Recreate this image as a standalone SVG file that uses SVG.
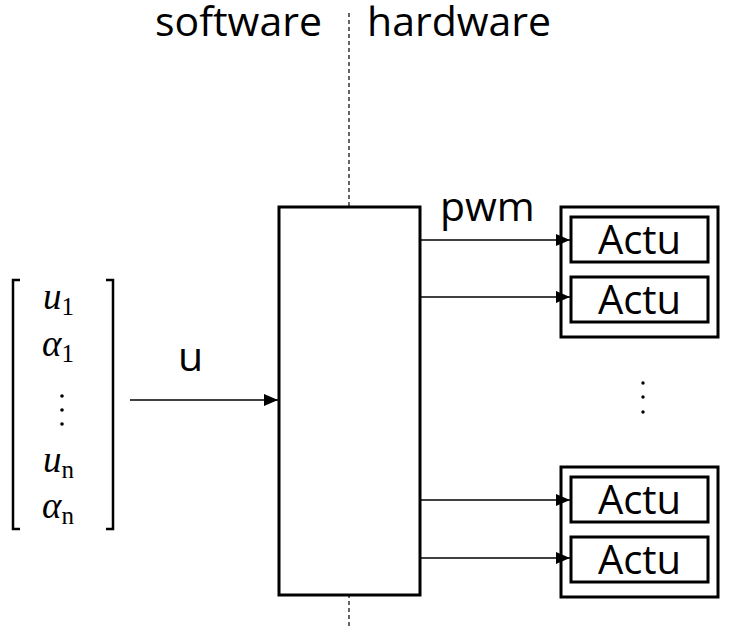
<svg xmlns="http://www.w3.org/2000/svg" width="740" height="628" viewBox="0 0 740 628">
<style>
.lbl{font-family:"Open Sans","Liberation Sans",sans-serif;font-size:41px;fill:#000}
.act{font-family:"Open Sans","Liberation Sans",sans-serif;font-size:40px;fill:#000;text-anchor:middle}
.box{fill:#fff;stroke:#000;stroke-width:3}
.math{font-family:"Liberation Serif","DejaVu Serif",serif;font-style:italic;font-size:37px;fill:#000}
.sub{font-family:"Liberation Serif","DejaVu Serif",serif;font-style:normal;font-size:25px;fill:#000}
.con{stroke:#000;stroke-width:1.3;fill:none}
</style>
<defs>
<marker id="ah" markerWidth="14" markerHeight="12" refX="14" refY="6" orient="auto" markerUnits="userSpaceOnUse">
<path d="M0,0 L14,6 L0,12 Z" fill="#000"/>
</marker>
</defs>
<rect width="740" height="628" fill="#fff"/>
<g id="divider">
<line x1="349" y1="13" x2="349" y2="628" stroke="#000" stroke-width="1.2" stroke-dasharray="4,3"/>
<text class="lbl" x="155" y="36">software</text>
<text class="lbl" x="367" y="36">hardware</text>
</g>
<g id="vector">
<path d="M20,280 L13,280 L13,529 L20,529" fill="none" stroke="#000" stroke-width="2.5"/>
<path d="M106,280 L113,280 L113,529 L106,529" fill="none" stroke="#000" stroke-width="2.5"/>
<text class="math" x="43" y="309">u<tspan class="sub" dy="6">1</tspan></text>
<text class="math" x="42" y="356">α<tspan class="sub" dy="6">1</tspan></text>
<circle cx="62" cy="396" r="1.8" fill="#000"/>
<circle cx="62" cy="410" r="1.8" fill="#000"/>
<circle cx="62" cy="424" r="1.8" fill="#000"/>
<text class="math" x="43" y="472">u<tspan class="sub" dy="6" font-style="italic">n</tspan></text>
<text class="math" x="42" y="518">α<tspan class="sub" dy="6" font-style="italic">n</tspan></text>
</g>
<g id="controller">
<rect class="box" x="279" y="207" width="141" height="388"/>
</g>
<g id="group1">
<rect class="box" x="561" y="207" width="157" height="130"/>
</g>
<g id="actu1">
<rect class="box" x="571" y="217" width="137" height="45"/>
<text class="act" x="639.5" y="254">Actu</text>
</g>
<g id="actu2">
<rect class="box" x="571" y="277" width="137" height="45"/>
<text class="act" x="639.5" y="314">Actu</text>
</g>
<g id="group2">
<rect class="box" x="561" y="467" width="157" height="130"/>
</g>
<g id="actu3">
<rect class="box" x="571" y="477" width="137" height="45"/>
<text class="act" x="639.5" y="514">Actu</text>
</g>
<g id="actu4">
<rect class="box" x="571" y="537" width="137" height="45"/>
<text class="act" x="639.5" y="574">Actu</text>
</g>
<g id="ellipsis">
<circle cx="643" cy="383" r="1.7" fill="#000"/>
<circle cx="643" cy="397" r="1.7" fill="#000"/>
<circle cx="643" cy="412" r="1.7" fill="#000"/>
</g>
<g id="connectors">
<line class="con" x1="130" y1="400" x2="278" y2="400" marker-end="url(#ah)"/>
<line class="con" x1="421" y1="240" x2="570" y2="240" marker-end="url(#ah)"/>
<line class="con" x1="421" y1="297" x2="570" y2="297" marker-end="url(#ah)"/>
<line class="con" x1="421" y1="500" x2="570" y2="500" marker-end="url(#ah)"/>
<line class="con" x1="421" y1="558" x2="570" y2="558" marker-end="url(#ah)"/>
<text class="lbl" x="178" y="371">u</text>
<text class="lbl" x="440" y="221">pwm</text>
</g>
</svg>
